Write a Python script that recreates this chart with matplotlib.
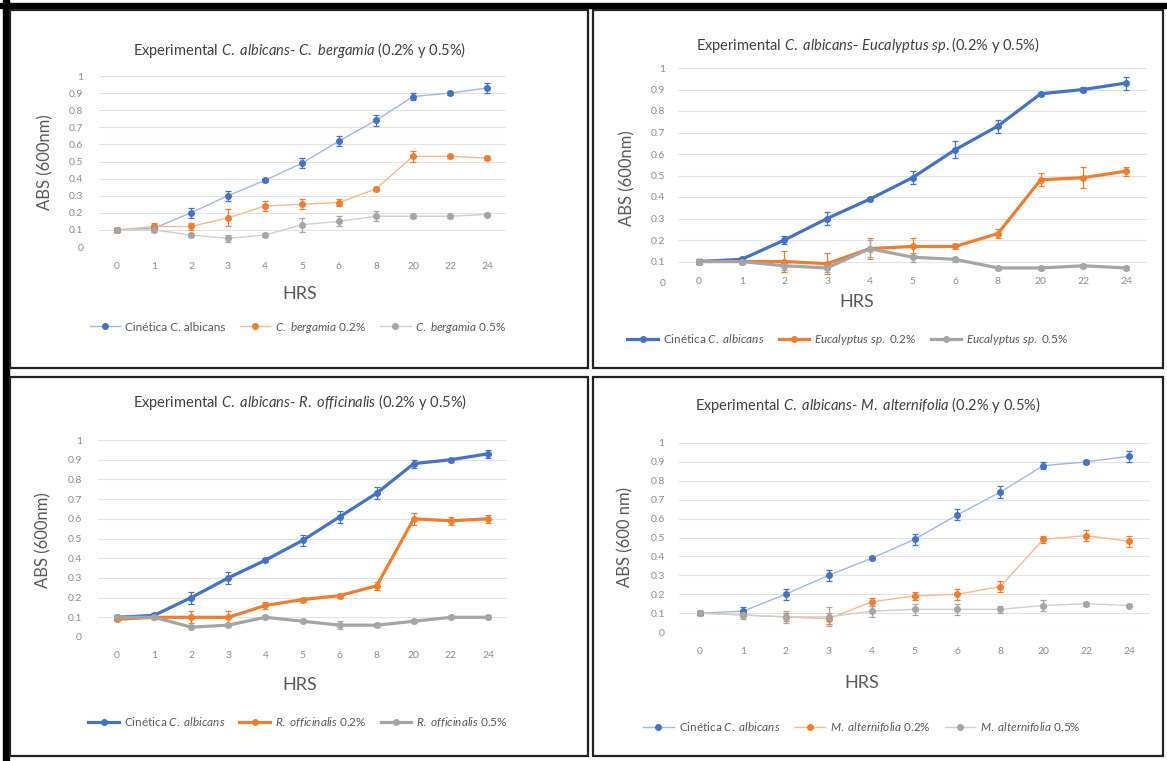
import matplotlib
matplotlib.use("Agg")
import matplotlib.pyplot as plt
from matplotlib.patches import Rectangle

plt.rcParams['font.family'] = ['Lato', 'DejaVu Sans']
plt.rcParams['mathtext.fontset'] = 'custom'
plt.rcParams['mathtext.rm'] = 'Lato'
plt.rcParams['mathtext.it'] = 'Lato:italic'
plt.rcParams['mathtext.bf'] = 'Lato:bold'

hours = ['0', '1', '2', '3', '4', '5', '6', '8', '20', '22', '24']

# C. bergamia (top left)
berg_cin = [0.10, 0.11, 0.20, 0.30, 0.39, 0.49, 0.62, 0.74, 0.88, 0.90, 0.93]
berg_02 = [0.10, 0.12, 0.12, 0.17, 0.24, 0.25, 0.26, 0.34, 0.53, 0.53, 0.52]
berg_05 = [0.10, 0.10, 0.07, 0.05, 0.07, 0.13, 0.15, 0.18, 0.18, 0.18, 0.19]
berg_cin_err = [0.01, 0.01, 0.03, 0.03, 0.01, 0.03, 0.03, 0.03, 0.02, 0.01, 0.03]
berg_02_err = [0.01, 0.02, 0.02, 0.05, 0.03, 0.03, 0.02, 0.01, 0.03, 0.01, 0.01]
berg_05_err = [0.01, 0.01, 0.01, 0.02, 0.01, 0.04, 0.03, 0.03, 0.01, 0.01, 0.01]

# Eucalyptus sp. (top right)
euc_cin = [0.10, 0.11, 0.20, 0.30, 0.39, 0.49, 0.62, 0.73, 0.88, 0.90, 0.93]
euc_02 = [0.10, 0.10, 0.10, 0.09, 0.16, 0.17, 0.17, 0.23, 0.48, 0.49, 0.52]
euc_05 = [0.10, 0.10, 0.08, 0.07, 0.16, 0.12, 0.11, 0.07, 0.07, 0.08, 0.07]
euc_cin_err = [0.01, 0.01, 0.02, 0.03, 0.01, 0.03, 0.04, 0.03, 0.01, 0.01, 0.03]
euc_02_err = [0.01, 0.01, 0.05, 0.05, 0.05, 0.04, 0.01, 0.02, 0.03, 0.05, 0.02]
euc_05_err = [0.01, 0.01, 0.02, 0.02, 0.04, 0.02, 0.01, 0.01, 0.01, 0.01, 0.01]

# R. officinalis (bottom left)
ros_cin = [0.10, 0.11, 0.20, 0.30, 0.39, 0.49, 0.61, 0.73, 0.88, 0.90, 0.93]
ros_02 = [0.09, 0.10, 0.10, 0.10, 0.16, 0.19, 0.21, 0.26, 0.60, 0.59, 0.60]
ros_05 = [0.10, 0.10, 0.05, 0.06, 0.10, 0.08, 0.06, 0.06, 0.08, 0.10, 0.10]
ros_cin_err = [0.01, 0.01, 0.03, 0.03, 0.01, 0.03, 0.03, 0.03, 0.02, 0.01, 0.02]
ros_02_err = [0.01, 0.01, 0.03, 0.03, 0.02, 0.01, 0.01, 0.02, 0.03, 0.02, 0.02]
ros_05_err = [0.01, 0.01, 0.01, 0.01, 0.01, 0.01, 0.02, 0.01, 0.01, 0.01, 0.01]

# M. alternifolia (bottom right)
mel_cin = [0.10, 0.11, 0.20, 0.30, 0.39, 0.49, 0.62, 0.74, 0.88, 0.90, 0.93]
mel_02 = [0.10, 0.09, 0.08, 0.07, 0.16, 0.19, 0.20, 0.24, 0.49, 0.51, 0.48]
mel_05 = [0.10, 0.09, 0.08, 0.08, 0.11, 0.12, 0.12, 0.12, 0.14, 0.15, 0.14]
mel_cin_err = [0.01, 0.02, 0.03, 0.03, 0.01, 0.03, 0.03, 0.03, 0.02, 0.01, 0.03]
mel_02_err = [0.01, 0.01, 0.02, 0.03, 0.02, 0.02, 0.03, 0.03, 0.02, 0.03, 0.03]
mel_05_err = [0.01, 0.02, 0.03, 0.05, 0.03, 0.03, 0.03, 0.02, 0.03, 0.01, 0.01]

W, H = 1167, 761
fig = plt.figure(figsize=(W / 100, H / 100), dpi=100)

BLUE, ORANGE, GRAY = '#4472C4', '#ED7D31', '#A5A5A5'
LIGHT = {BLUE: '#9DB9E6', ORANGE: '#F5B98F', GRAY: '#CFCFCF'}
TXT = '#595959'


def px(x, y):
    return x / W, 1 - y / H


# frame: thick black on left/top, thin box around each panel
fig.patches.append(Rectangle((3 / W, 0), 6 / W, 1, transform=fig.transFigure,
                             color='black', zorder=5))
fig.patches.append(Rectangle((0, 1 - 8 / H), 1, 5 / H, transform=fig.transFigure,
                             color='black', zorder=5))
for (x0, y0, x1, y1) in [(10, 10, 588, 368), (593, 10, 1163, 368),
                         (10, 377, 588, 756), (593, 377, 1163, 756)]:
    fig.patches.append(Rectangle((x0 / W, 1 - y1 / H), (x1 - x0) / W, (y1 - y0) / H,
                                 transform=fig.transFigure, fill=False,
                                 ec='#222222', lw=1.6, zorder=5))

panels = [
    dict(series=[(berg_cin, berg_cin_err), (berg_02, berg_02_err), (berg_05, berg_05_err)],
         labels=["Cinética C. albicans", r"$\mathit{C.\ bergamia\ 0.2\%}$",
                 r"$\mathit{C.\ bergamia\ 0.5\%}$"],
         title=r"Experimental $\mathit{C.\ albicans}$- $\mathit{C.\ bergamia}$ (0.2% y 0.5%)",
         ylabel="ABS (600nm)", thick=False,
         x0=117, x1=487, ytop=76, ybot=247, xpad=11, ypad=11,
         title_xy=(300, 50), hrs_xy=(300, 294), ylab_xy=(45, 162), leg_xy=(298, 327)),
    dict(series=[(euc_cin, euc_cin_err), (euc_02, euc_02_err), (euc_05, euc_05_err)],
         labels=[r"Cinética $\mathit{C.\ albicans}$", r"$\mathit{Eucalyptus\ sp.\ 0.2\%}$",
                 r"$\mathit{Eucalyptus\ sp.\ 0.5\%}$"],
         title=r"Experimental $\mathit{C.\ albicans}$- $\mathit{Eucalyptus\ sp.}$(0.2% y 0.5%)",
         ylabel="ABS (600nm)", thick=True,
         x0=699, x1=1126, ytop=68, ybot=283, xpad=-4, ypad=9,
         title_xy=(868, 45), hrs_xy=(857, 302), ylab_xy=(627, 178), leg_xy=(848, 340)),
    dict(series=[(ros_cin, ros_cin_err), (ros_02, ros_02_err), (ros_05, ros_05_err)],
         labels=[r"Cinética $\mathit{C.\ albicans}$", r"$\mathit{R.\ officinalis\ 0.2\%}$",
                 r"$\mathit{R.\ officinalis\ 0.5\%}$"],
         title=r"Experimental $\mathit{C.\ albicans}$- $\mathit{R.\ officinalis}$ (0.2% y 0.5%)",
         ylabel="ABS (600nm)", thick=True,
         x0=117, x1=488, ytop=440, ybot=637, xpad=10, ypad=12,
         title_xy=(300, 402), hrs_xy=(300, 685), ylab_xy=(43, 540), leg_xy=(298, 722)),
    dict(series=[(mel_cin, mel_cin_err), (mel_02, mel_02_err), (mel_05, mel_05_err)],
         labels=[r"Cinética $\mathit{C.\ albicans}$", r"$\mathit{M.\ alternifolia\ 0.2\%}$",
                 r"$\mathit{M.\ alternifolia\ 0.5\%}$"],
         title=r"Experimental $\mathit{C.\ albicans}$- $\mathit{M.\ alternifolia}$ (0.2% y 0.5%)",
         ylabel="ABS (600 nm)", thick=False,
         x0=700, x1=1129, ytop=443, ybot=632, xpad=11, ypad=10,
         title_xy=(868, 405), hrs_xy=(862, 683), ylab_xy=(625, 537), leg_xy=(862, 727)),
]

colors = [BLUE, ORANGE, GRAY]
xs = list(range(len(hours)))

for p in panels:
    step = (p['x1'] - p['x0']) / 10
    left = p['x0'] - step / 2
    right = p['x1'] + step / 2
    ax = fig.add_axes([left / W, 1 - p['ybot'] / H, (right - left) / W,
                       (p['ybot'] - p['ytop']) / H])
    ax.set_xlim(-0.5, 10.5)
    ax.set_ylim(0, 1)
    ax.set_yticks([i / 10 for i in range(11)])
    ax.set_yticklabels(['0', '0.1', '0.2', '0.3', '0.4', '0.5', '0.6', '0.7', '0.8', '0.9', '1'])
    ax.set_xticks(xs)
    ax.set_xticklabels(hours)
    ax.tick_params(axis='x', length=0, pad=p['xpad'], labelsize=7.5, labelcolor='#8C8C8C')
    ax.tick_params(axis='y', length=0, pad=p['ypad'], labelsize=7.5, labelcolor='#8C8C8C')
    ax.grid(axis='y', color='#E3E3E3', lw=0.8)
    ax.set_axisbelow(True)
    for s in ax.spines.values():
        s.set_visible(False)
    ax.patch.set_alpha(0)

    handles = []
    for (vals, err), c, lab in zip(p['series'], colors, p['labels']):
        if p['thick']:
            lc, lw, ms = c, 2.3, 4
        else:
            lc, lw, ms = LIGHT[c], 1.0, 4
        ax.errorbar(xs, vals, yerr=err, fmt='none', ecolor=c, elinewidth=0.9,
                    capsize=2.2, capthick=0.9, zorder=3)
        h, = ax.plot(xs, vals, color=lc, lw=lw, marker='o', ms=ms, mfc=c, mec=c,
                     label=lab, zorder=4)
        handles.append(h)

    fig.text(*px(*p['title_xy']), p['title'], ha='center', va='center',
             fontsize=10.5, color='#404040')
    fig.text(*px(*p['hrs_xy']), 'HRS', ha='center', va='center',
             fontsize=13, color=TXT)
    fig.text(*px(*p['ylab_xy']), p['ylabel'], ha='center', va='center',
             rotation=90, fontsize=12, color=TXT)
    ax.legend(handles=handles, loc='center', bbox_to_anchor=px(*p['leg_xy']),
              bbox_transform=fig.transFigure, ncol=3, frameon=False, fontsize=8.5,
              labelcolor=TXT, handlelength=2.6, columnspacing=1.2, handletextpad=0.4)

fig.savefig('out.png', dpi=100, facecolor='white')
